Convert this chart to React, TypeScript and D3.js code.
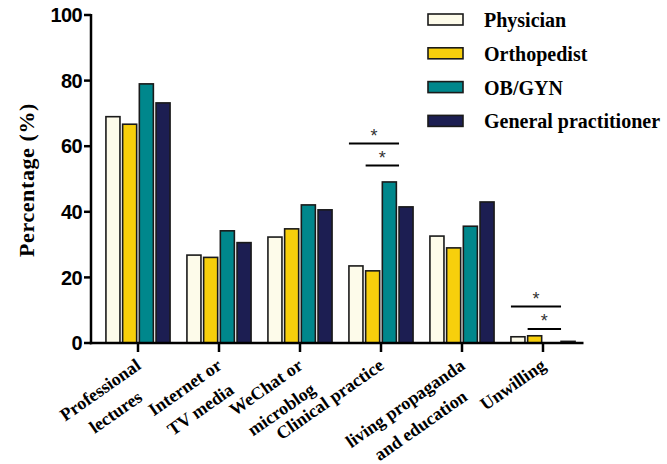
import React, { useMemo } from "react";
import * as d3 from "d3";

const categories = [
  "Professional\nlectures",
  "Internet or\nTV media",
  "WeChat or\nmicroblog",
  "Clinical practice",
  "living propaganda\nand education",
  "Unwilling",
];
const seriesNames = ["Physician", "Orthopedist", "OB/GYN", "General practitioner"];
const physician = [69, 26.8, 32.3, 23.5, 32.6, 1.9];
const orthopedist = [66.7, 26.1, 34.8, 22, 29, 2.2];
const obgyn = [79, 34.2, 42.1, 49.1, 35.6, 0];
const gp = [73.2, 30.6, 40.6, 41.5, 43, 0.5];
const seriesColors = ["#FDFBEA", "#F7CF0C", "#00878C", "#1C1E52"];
const yTicks = [0, 20, 40, 60, 80, 100];

// significance brackets
const sigCategory = [3, 3, 5, 5];
const sigFrom = [0, 1, 0, 1];
const sigTo = [3, 3, 3, 3];
const sigLevel = [60.8, 54.1, 11.1, 4.3];

const W = 667;
const H = 464;
const SERIF = "'Liberation Serif', 'Times New Roman', serif";
const SANS = "'Liberation Sans', Arial, sans-serif";

export default function App() {
  const series = [physician, orthopedist, obgyn, gp];
  const x = d3.scaleBand<string>().domain(categories).range([97.5, 583.5]);
  const inner = d3
    .scaleBand<number>()
    .domain([0, 1, 2, 3])
    .range([-33.4, 33.4])
    .paddingInner(0.16)
    .paddingOuter(0.08);
  const y = d3.scaleLinear().domain([0, 100]).range([343, 15]);
  const axisLeft = 91;
  const axisRight = 583.5;

  const measure = useMemo(() => {
    const c = document.createElement("canvas").getContext("2d")!;
    c.font = `bold 18px ${SERIF}`;
    return (s: string) => c.measureText(s).width;
  }, []);

  const labelAngle = -35;
  const lineH = 27;

  return (
    <div style={{ position: "absolute", left: 0, top: 0 }}>
      <svg width={W} height={H} style={{ display: "block", background: "#fff" }}>
        {/* bars */}
        {categories.map((cat, ci) => {
          const cx = (x(cat) as number) + x.bandwidth() / 2;
          return series.map((vals, si) => {
            const v = vals[ci];
            if (v <= 0) return null;
            const bx = cx + (inner(si) as number);
            return (
              <rect
                key={`${ci}-${si}`}
                x={bx}
                y={y(v)}
                width={inner.bandwidth()}
                height={y(0) - y(v)}
                fill={seriesColors[si]}
                stroke="#1a1a1a"
                strokeWidth={1.6}
              />
            );
          });
        })}

        {/* significance */}
        {sigCategory.map((ci, k) => {
          const cx = (x(categories[ci]) as number) + x.bandwidth() / 2;
          const x1 = cx + (inner(sigFrom[k]) as number);
          const x2 = cx + (inner(sigTo[k]) as number);
          const yy = y(sigLevel[k]);
          return (
            <g key={`sig-${k}`}>
              <line x1={x1} x2={x2} y1={yy} y2={yy} stroke="#000" strokeWidth={2} />
              <text
                x={(x1 + x2) / 2}
                y={yy - 2}
                textAnchor="middle"
                fontFamily={SANS}
                fontSize={18}
                fill="#333"
              >
                *
              </text>
            </g>
          );
        })}

        {/* y axis */}
        <line x1={axisLeft} x2={axisLeft} y1={y(100) - 1} y2={y(0) + 1.25} stroke="#000" strokeWidth={2.5} />
        {yTicks.map((t) => (
          <g key={t}>
            <line x1={axisLeft - 7} x2={axisLeft} y1={y(t)} y2={y(t)} stroke="#000" strokeWidth={2.5} />
            <text
              x={axisLeft - 9}
              y={y(t)}
              dy="0.36em"
              textAnchor="end"
              fontFamily={SANS}
              fontWeight="bold"
              fontSize={20}
              letterSpacing={-0.6}
              fill="#000"
            >
              {t}
            </text>
          </g>
        ))}
        <text
          transform={`translate(34, 180) rotate(-90)`}
          textAnchor="middle"
          fontFamily={SERIF}
          fontWeight="bold"
          fontSize={22}
          letterSpacing={0.6}
          fill="#000"
        >
          Percentage (%)
        </text>

        {/* x axis */}
        <line x1={axisLeft - 1.25} x2={axisRight} y1={y(0)} y2={y(0)} stroke="#000" strokeWidth={2.5} />
        {categories.map((cat) => {
          const cx = (x(cat) as number) + x.bandwidth() / 2;
          const lines = cat.split("\n");
          const wMax = Math.max(...lines.map(measure));
          return (
            <g key={cat}>
              <line x1={cx} x2={cx} y1={y(0)} y2={y(0) + 9} stroke="#000" strokeWidth={2.5} />
              <g transform={`translate(${cx + 4}, 368) rotate(${labelAngle})`}>
                {lines.map((ln, li) => (
                  <text
                    key={li}
                    x={-wMax / 2}
                    y={li * lineH}
                    textAnchor="middle"
                    fontFamily={SERIF}
                    fontWeight="bold"
                    fontSize={18}
                    fill="#000"
                  >
                    {ln}
                  </text>
                ))}
              </g>
            </g>
          );
        })}

        {/* legend */}
        {seriesNames.map((name, i) => {
          const ly = 14 + i * 33.8;
          return (
            <g key={name}>
              <rect x={428} y={ly} width={35} height={11} fill={seriesColors[i]} stroke="#1a1a1a" strokeWidth={1.6} />
              <text x={484} y={ly + 13} fontFamily={SERIF} fontWeight="bold" fontSize={20} fill="#000">
                {name}
              </text>
            </g>
          );
        })}
      </svg>
    </div>
  );
}
